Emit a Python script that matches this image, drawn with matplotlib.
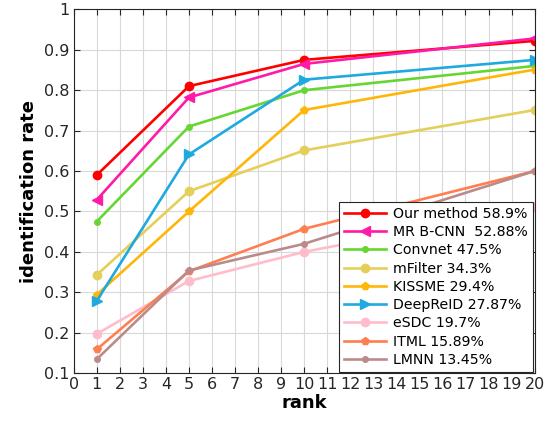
import matplotlib
matplotlib.use("Agg")
import matplotlib.pyplot as plt

ranks = [1, 5, 10, 20]
methods = ["Our method 58.9%", "MR B-CNN  52.88%", "Convnet 47.5%", "mFilter 34.3%",
           "KISSME 29.4%", "DeepReID 27.87%", "eSDC 19.7%", "ITML 15.89%", "LMNN 13.45%"]
our_method = [0.59, 0.81, 0.875, 0.922]
mr_bcnn = [0.5288, 0.782, 0.865, 0.928]
convnet = [0.475, 0.71, 0.80, 0.86]
mfilter = [0.343, 0.55, 0.651, 0.751]
kissme = [0.294, 0.50, 0.751, 0.851]
deepreid = [0.2787, 0.641, 0.826, 0.875]
esdc = [0.197, 0.328, 0.40, 0.51]
itml = [0.1589, 0.352, 0.457, 0.60]
lmnn = [0.1345, 0.354, 0.42, 0.60]

series = [our_method, mr_bcnn, convnet, mfilter, kissme, deepreid, esdc, itml, lmnn]
colors = ["#ff0000", "#ff1aa8", "#66d632", "#e3cf5a", "#ffb60a", "#1eaadf",
          "#ffbccb", "#ff7f50", "#bb8b8b"]
markers = ["o", "<", ".", "o", "p", ">", "o", "p", "."]
msizes = [6, 6.5, 8, 6, 6, 6.5, 6, 6, 8]

fig = plt.figure(figsize=(5.5, 4.25), dpi=100)
ax = fig.add_axes([0.134, 0.122, 0.838, 0.856])

for vals, lab, c, m, ms in zip(series, methods, colors, markers, msizes):
    ax.plot(ranks, vals, color=c, lw=1.9, marker=m, ms=ms, label=lab)

ax.set_xlim(0, 20)
ax.set_ylim(0.1, 1.0)
ax.set_xticks(range(0, 21))
ax.set_yticks([0.1, 0.2, 0.3, 0.4, 0.5, 0.6, 0.7, 0.8, 0.9, 1.0])
ax.set_yticklabels(["0.1", "0.2", "0.3", "0.4", "0.5", "0.6", "0.7", "0.8", "0.9", "1"])
ax.grid(True, color="#d9d9d9", lw=0.8)
ax.set_axisbelow(True)
ax.tick_params(direction="in", top=True, right=True, labelsize=11.5,
               colors="#262626", length=4, pad=3)
for s in ax.spines.values():
    s.set_color("#262626")
    s.set_linewidth(0.8)

ax.set_xlabel("rank", fontsize=13, fontweight="bold", labelpad=1)
ax.set_ylabel("identification rate", fontsize=13, fontweight="bold", labelpad=4)

leg = ax.legend(loc="lower right", fontsize=10.2, frameon=True, fancybox=False,
                edgecolor="#262626", framealpha=1, borderaxespad=0.1,
                handlelength=3.0, labelspacing=0.3, borderpad=0.35, handletextpad=0.5)
leg.get_frame().set_linewidth(0.8)

fig.savefig("out.png", dpi=100)
